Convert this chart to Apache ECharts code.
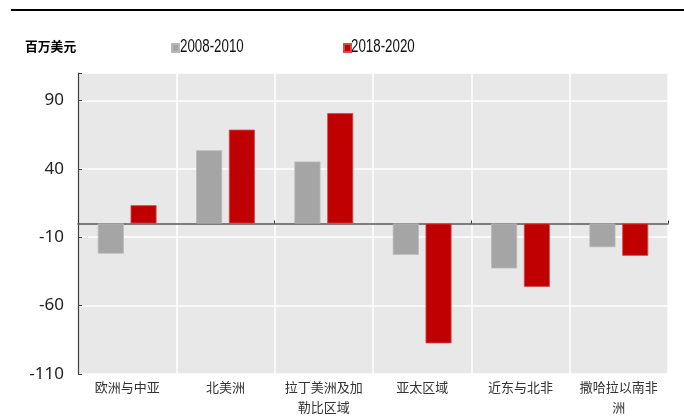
<!DOCTYPE html>
<html>
<head>
<meta charset="utf-8">
<script src="https://cdn.jsdelivr.net/npm/echarts@6/dist/echarts.min.js"></script>
<style>
html,body{margin:0;padding:0;background:#fff;}
#chart{width:684px;height:419px;}
</style>
</head>
<body>
<div id="chart"></div>
<script>
const categories = ['欧洲与中亚', '北美洲', '拉丁美洲及加勒比区域', '亚太区域', '近东与北非', '撒哈拉以南非洲'];
const seriesNames = ['2008-2010', '2018-2020'];
const values2008 = [-22, 53.5, 45.3, -22.9, -32.8, -17.3];
const values2018 = [13.4, 68.6, 80.7, -87.6, -46.3, -23.6];
const unitLabel = '百万美元';

const chart = echarts.init(document.getElementById('chart'), null, {renderer: 'canvas'});
const legendTextStyle = {font: '18px "Liberation Sans"', fill: '#111', textVerticalAlign: 'middle'};
const option = {
  animation: false,
  backgroundColor: '#fff',
  graphic: [
    {type: 'rect', left: 11, top: 9, shape: {width: 673, height: 2}, style: {fill: '#000'}},
    {type: 'text', left: 25, top: 40, style: {text: unitLabel, font: 'bold 12.8px "Noto Sans CJK SC"', fill: '#000'}},
    {type: 'text', x: 180, y: 47, scaleX: 0.74, style: Object.assign({text: seriesNames[0]}, legendTextStyle)},
    {type: 'text', x: 351, y: 47, scaleX: 0.74, style: Object.assign({text: seriesNames[1]}, legendTextStyle)}
  ],
  legend: {
    left: 166, top: 38,
    itemWidth: 7, itemHeight: 8, itemGap: 163,
    icon: 'rect',
    formatter: function () { return ''; },
    textStyle: {fontSize: 1},
    data: seriesNames
  },
  grid: {
    left: 78, right: 16, top: 73, bottom: 45,
    show: true, backgroundColor: '#E8E8E8', borderWidth: 0,
    containLabel: false
  },
  xAxis: [
    {
      type: 'category', data: categories, position: 'bottom',
      axisLine: {show: false, onZero: false},
      axisTick: {show: false},
      splitLine: {show: true, lineStyle: {color: '#fff', width: 1.5}},
      axisLabel: {
        interval: 0, fontFamily: 'Noto Sans CJK SC', fontSize: 13, color: '#333',
        width: 82, overflow: 'break', lineHeight: 20, margin: 3
      }
    },
    {
      type: 'category', data: categories, position: 'bottom',
      axisLine: {show: true, onZero: true, lineStyle: {color: '#5a5a5a', width: 1.5}},
      axisTick: {show: true, inside: true, length: 3, lineStyle: {color: '#333'}},
      axisLabel: {show: false},
      splitLine: {show: false}
    }
  ],
  yAxis: {
    type: 'value', min: -110, max: 110, interval: 50,
    axisLine: {show: true, lineStyle: {color: '#404040', width: 1.2}},
    axisTick: {show: true, inside: true, length: 4, lineStyle: {color: '#404040'}},
    splitLine: {show: true, lineStyle: {color: '#fff', width: 1.5}},
    axisLabel: {fontFamily: 'Noto Sans', fontSize: 17, color: '#222', margin: 14,
      formatter: function (v) { return v === 110 ? '' : String(v); }}
  },
  series: [
    {
      name: seriesNames[0], type: 'bar', data: values2008, xAxisIndex: 0,
      barWidth: 26, barGap: '26%',
      itemStyle: {color: '#A5A5A5', borderColor: '#B8B8B8', borderWidth: 0.8}
    },
    {
      name: seriesNames[1], type: 'bar', data: values2018, xAxisIndex: 0,
      barWidth: 26, barGap: '26%',
      itemStyle: {color: '#C00000', borderColor: '#D44A4A', borderWidth: 0.8}
    }
  ]
};
chart.setOption(option);
</script>
</body>
</html>
